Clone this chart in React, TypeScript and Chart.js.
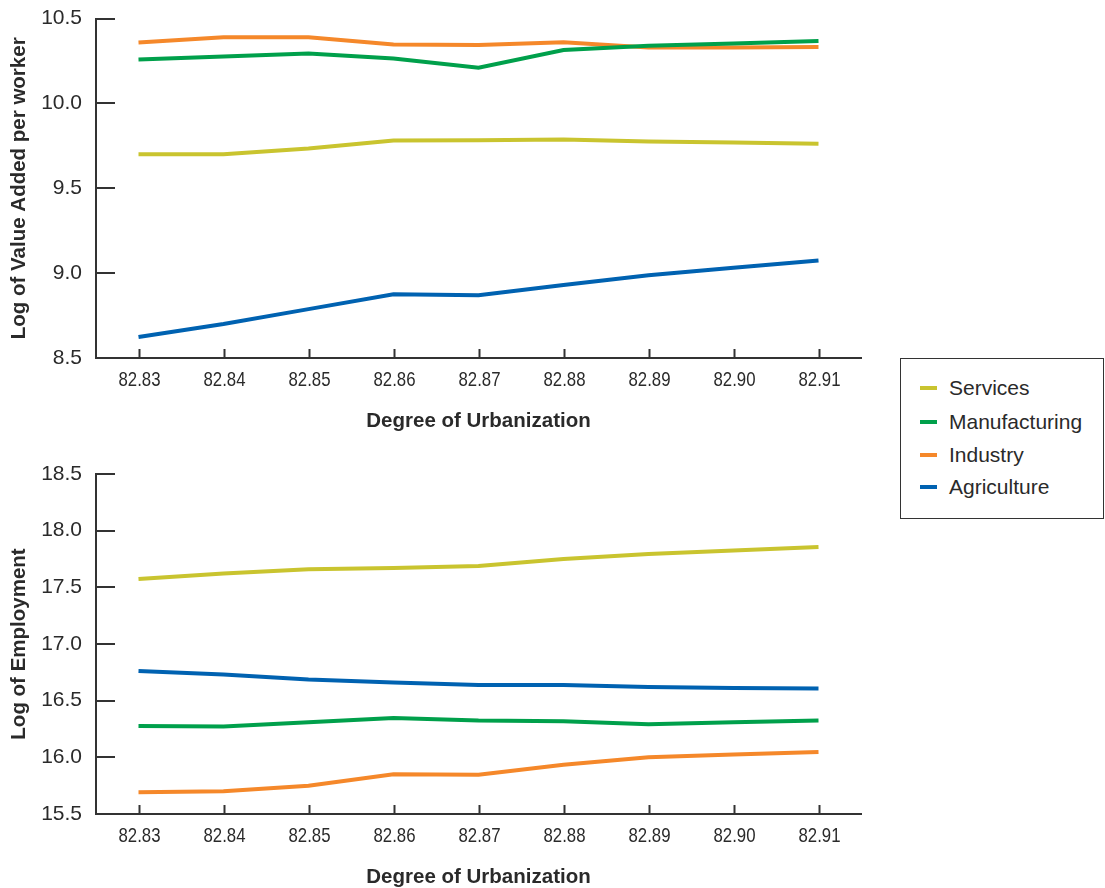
import React, { useEffect, useRef } from "react";
import { Chart, registerables } from "chart.js";

Chart.register(...registerables);

const categories = ["82.83", "82.84", "82.85", "82.86", "82.87", "82.88", "82.89", "82.90", "82.91"];
const seriesNames = ["Services", "Manufacturing", "Industry", "Agriculture"];
const seriesColors = ["#C9C42F", "#00A04B", "#F5882A", "#0062B1"];

const valueAddedServices = [9.70, 9.70, 9.735, 9.782, 9.783, 9.788, 9.776, 9.77, 9.762];
const valueAddedManufacturing = [10.259, 10.276, 10.294, 10.265, 10.21, 10.315, 10.34, 10.353, 10.368];
const valueAddedIndustry = [10.359, 10.39, 10.39, 10.347, 10.344, 10.36, 10.33, 10.33, 10.332];
const valueAddedAgriculture = [8.624, 8.70, 8.788, 8.876, 8.87, 8.93, 8.988, 9.032, 9.074];

const employmentServices = [17.573, 17.622, 17.66, 17.67, 17.688, 17.75, 17.794, 17.825, 17.856];
const employmentManufacturing = [16.276, 16.273, 16.31, 16.346, 16.324, 16.319, 16.293, 16.31, 16.324];
const employmentIndustry = [15.693, 15.7, 15.75, 15.85, 15.846, 15.934, 16.0, 16.026, 16.048];
const employmentAgriculture = [16.761, 16.73, 16.686, 16.66, 16.638, 16.638, 16.62, 16.611, 16.607];

const valueAddedTicks = [8.5, 9.0, 9.5, 10.0, 10.5];
const employmentTicks = [15.5, 16.0, 16.5, 17.0, 17.5, 18.0, 18.5];

const xTitle = "Degree of Urbanization";
const topYTitle = "Log of Value Added per worker";
const bottomYTitle = "Log of Employment";

const AXIS_COLOR = "#333333";
const TEXT_COLOR = "#2a2a2a";
const FONT = "'Liberation Sans', Arial, sans-serif";

const inwardTicks = {
  id: "inwardTicks",
  afterDraw(chart: any) {
    const { ctx, chartArea, scales } = chart;
    ctx.save();
    ctx.strokeStyle = AXIS_COLOR;
    ctx.lineWidth = 2;
    const ys = scales.y;
    ys.ticks.forEach((t: any) => {
      const y = Math.round(ys.getPixelForValue(t.value));
      ctx.beginPath();
      ctx.moveTo(chartArea.left, y);
      ctx.lineTo(chartArea.left + 19, y);
      ctx.stroke();
    });
    const xs = scales.x;
    const labels = chart.data.labels as string[];
    ctx.fillStyle = TEXT_COLOR;
    ctx.font = "21px " + FONT;
    ctx.textAlign = "center";
    ctx.textBaseline = "middle";
    labels.forEach((lab: string, i: number) => {
      const x = Math.round(xs.getPixelForValue(i)) + 0.5;
      ctx.beginPath();
      ctx.moveTo(x, chartArea.bottom);
      ctx.lineTo(x, chartArea.bottom - 9);
      ctx.stroke();
      // condensed tick label
      ctx.save();
      ctx.translate(x, chartArea.bottom + 22);
      ctx.scale(0.8, 1);
      ctx.fillText(lab, 0, 0);
      ctx.restore();
    });
    ctx.restore();
  },
};

function makeConfig(
  data: number[][],
  yTitle: string,
  ticks: number[],
  padTop: number,
  xHeight: number,
  xTitlePadBottom: number
) {
  return {
    type: "line" as const,
    data: {
      labels: categories,
      datasets: seriesNames.map((name, i) => ({
        label: name,
        data: data[i],
        borderColor: seriesColors[i],
        backgroundColor: seriesColors[i],
        borderWidth: 4,
        pointRadius: 0,
        tension: 0,
        fill: false,
      })),
    },
    options: {
      animation: false as const,
      responsive: false,
      maintainAspectRatio: false,
      layout: { padding: { top: padTop, right: 9, left: 0, bottom: 0 } },
      plugins: { legend: { display: false }, tooltip: { enabled: false } },
      scales: {
        x: {
          type: "category" as const,
          offset: true,
          grid: { display: false, drawTicks: false },
          border: { display: true, color: AXIS_COLOR, width: 2 },
          ticks: { display: false },
          title: {
            display: true,
            text: xTitle,
            color: TEXT_COLOR,
            font: { family: FONT, size: 20.5, weight: "bold" as const },
            padding: { top: 0, bottom: xTitlePadBottom },
          },
          afterFit: (s: any) => {
            s.height = xHeight;
          },
        },
        y: {
          type: "linear" as const,
          min: ticks[0],
          max: ticks[ticks.length - 1],
          afterBuildTicks: (s: any) => {
            s.ticks = ticks.map((v) => ({ value: v }));
          },
          grid: { display: false, drawTicks: false },
          border: { display: true, color: AXIS_COLOR, width: 2 },
          ticks: {
            padding: 14,
            color: TEXT_COLOR,
            font: { family: FONT, size: 21 },
            callback: (v: any) => Number(v).toFixed(1),
          },
          title: {
            display: true,
            text: yTitle,
            color: TEXT_COLOR,
            font: { family: FONT, size: 20.5, weight: "bold" as const },
            padding: { top: 7, bottom: 0 },
          },
          afterFit: (s: any) => {
            s.width = 96;
          },
        },
      },
    },
    plugins: [inwardTicks],
  };
}

function ChartCanvas(props: {
  data: number[][];
  yTitle: string;
  ticks: number[];
  top: number;
  height: number;
  padTop: number;
  xHeight: number;
  xTitlePadBottom: number;
}) {
  const ref = useRef<HTMLCanvasElement | null>(null);
  useEffect(() => {
    if (!ref.current) return;
    const chart = new Chart(
      ref.current,
      makeConfig(props.data, props.yTitle, props.ticks, props.padTop, props.xHeight, props.xTitlePadBottom) as any
    );
    return () => chart.destroy();
  }, []);
  return (
    <div style={{ position: "absolute", left: 0, top: props.top, width: 870, height: props.height }}>
      <canvas ref={ref} width={870} height={props.height} style={{ width: 870, height: props.height }} />
    </div>
  );
}

export default function App() {
  const legendRows = [29, 63, 96, 128];
  return (
    <div style={{ position: "absolute", left: 0, top: 0, width: 1105, height: 888, background: "#fff", overflow: "hidden" }}>
      <ChartCanvas
        data={[valueAddedServices, valueAddedManufacturing, valueAddedIndustry, valueAddedAgriculture]}
        yTitle={topYTitle}
        ticks={valueAddedTicks}
        top={-8}
        height={448}
        padTop={26}
        xHeight={82}
        xTitlePadBottom={6}
      />
      <ChartCanvas
        data={[employmentServices, employmentManufacturing, employmentIndustry, employmentAgriculture]}
        yTitle={bottomYTitle}
        ticks={employmentTicks}
        top={442}
        height={448}
        padTop={32}
        xHeight={76}
        xTitlePadBottom={0}
      />
      <div
        style={{
          position: "absolute",
          left: 900,
          top: 358,
          width: 204,
          height: 161,
          boxSizing: "border-box",
          border: "1px solid #333",
          background: "#fff",
        }}
      >
        {seriesNames.map((name, i) => (
          <div key={name}>
            <div
              style={{
                position: "absolute",
                left: 19,
                top: legendRows[i] - 2,
                width: 17,
                height: 4,
                background: seriesColors[i],
              }}
            />
            <div
              style={{
                position: "absolute",
                left: 48,
                top: legendRows[i] - 13,
                height: 26,
                lineHeight: "26px",
                fontFamily: FONT,
                fontSize: 21,
                color: TEXT_COLOR,
                whiteSpace: "nowrap",
              }}
            >
              {name}
            </div>
          </div>
        ))}
      </div>
    </div>
  );
}
